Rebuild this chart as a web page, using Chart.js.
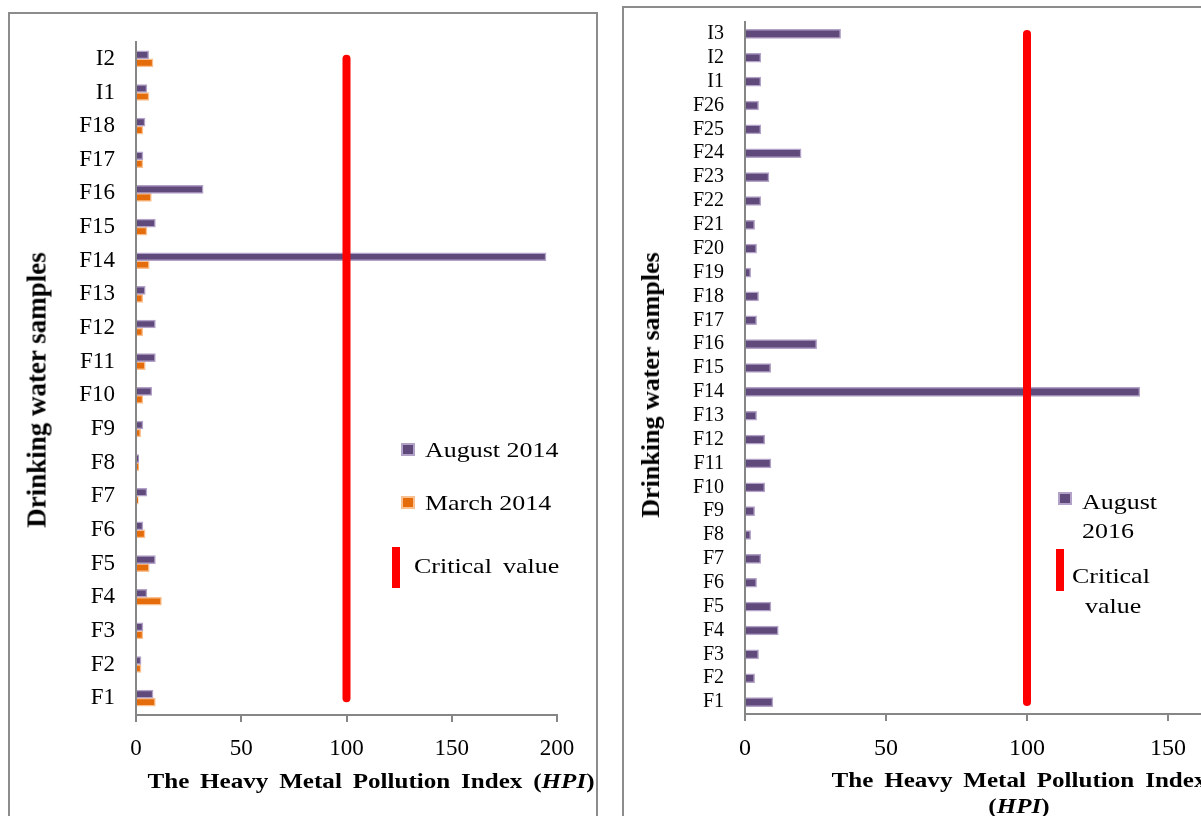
<!DOCTYPE html>
<html>
<head>
<meta charset="utf-8">
<script src="https://cdn.jsdelivr.net/npm/chart.js@4/dist/chart.umd.min.js"></script>
<style>
  body { margin: 0; width: 1201px; height: 816px; overflow: hidden; background: #fff; position: relative; font-family: "Liberation Serif", serif; }
  .box { position: absolute; border: 2px solid #8c8c8c; box-sizing: border-box; }
  canvas { position: absolute; }
  .txt { position: absolute; white-space: nowrap; color: #000; }
  .xt { font-weight: bold; font-size: 22px; word-spacing: 4px; transform: translateX(-50%) scaleX(1.14); }
  .yt { font-weight: bold; font-size: 27px; transform: translate(-50%, -50%) rotate(-90deg); }
  .lg { font-size: 22px; transform-origin: left center; transform: scaleX(1.18); }
  .sq { position: absolute; width: 14px; height: 13px; box-sizing: border-box; }
  .red { position: absolute; width: 8px; background: #ff0000; }
</style>
</head>
<body>
<div class="box" style="left:8px; top:12px; width:590px; height:830px;"></div>
<div class="box" style="left:622px; top:6px; width:700px; height:830px;"></div>

<canvas id="left" width="586" height="800" style="left:10px; top:14px;"></canvas>
<canvas id="right" width="720" height="808" style="left:624px; top:8px;"></canvas>

<div class="txt yt" style="left:37px; top:390px;">Drinking water samples</div>
<div class="txt xt" style="left:371px; top:768px;">The Heavy Metal Pollution Index (<i>HPI</i>)</div>

<div class="sq" style="left:401px; top:443px; background:#604a7b; border:2px solid #b3a2c7;"></div>
<div class="txt lg" style="left:425px; top:437px;">August 2014</div>
<div class="sq" style="left:401px; top:496px; background:#e46c0a; border:2px solid #fac090;"></div>
<div class="txt lg" style="left:425px; top:490px;">March 2014</div>
<div class="red" style="left:392px; top:547px; height:41px;"></div>
<div class="txt lg" style="left:414px; top:553px; word-spacing:4px;">Critical value</div>

<div class="txt yt" style="left:651px; top:385px; font-size:26px;">Drinking water samples</div>
<div class="txt xt" style="left:1019px; top:767px; text-align:center; line-height:26px;">The Heavy Metal Pollution Index<br>(<i>HPI</i>)</div>

<div class="sq" style="left:1058px; top:492px; background:#604a7b; border:2px solid #b3a2c7;"></div>
<div class="txt lg" style="left:1082px; top:487px; line-height:29px;">August<br>2016</div>
<div class="red" style="left:1056px; top:549px; height:42px;"></div>
<div class="txt lg" style="left:1072px; top:561px; line-height:30px;">Critical<br>&nbsp;&nbsp;value</div>

<script>
// 2014 samples (left panel)
const labels2014 = ['F1','F2','F3','F4','F5','F6','F7','F8','F9','F10','F11','F12','F13','F14','F15','F16','F17','F18','I1','I2'];
const aug2014 = [8.1, 2.4, 3.3, 5.2, 9.2, 3.3, 5.2, 1.3, 3.3, 7.5, 9.2, 9.2, 4.4, 194.8, 9.2, 31.9, 3.3, 4.3, 5.2, 6.0];
const mar2014 = [9.2, 2.4, 3.3, 12.1, 6.3, 4.3, 1.1, 1.3, 2.2, 3.3, 4.4, 3.2, 3.2, 6.3, 5.2, 7.3, 3.3, 3.3, 6.2, 8.1];

// 2016 samples (right panel)
const labels2016 = ['F1','F2','F3','F4','F5','F6','F7','F8','F9','F10','F11','F12','F13','F14','F15','F16','F17','F18','F19','F20','F21','F22','F23','F24','F25','F26','I1','I2','I3'];
const aug2016 = [9.9, 3.4, 4.8, 11.8, 9.2, 4.1, 5.6, 2.0, 3.4, 7.0, 9.2, 7.0, 4.1, 140, 9.1, 25.4, 4.1, 4.8, 2.0, 4.1, 3.4, 5.6, 8.5, 19.9, 5.6, 4.8, 5.6, 5.6, 33.9];

const criticalValue = 100;
const xTicks = [0, 50, 100, 150, 200];

const axisGray = '#868686';

function makeChart(id, labels, bars, opts) {
  const datasets = bars.map(b => ({
    label: b.label,
    data: b.data,
    backgroundColor: b.fill,
    borderColor: b.border,
    borderWidth: 1.5,
    barThickness: opts.barThickness
  }));
  // critical value line, from bottom category to top category
  datasets.push({
    type: 'line',
    label: 'Critical value',
    indexAxis: 'y',
    data: [{x: criticalValue, y: labels[0]}, {x: criticalValue, y: labels[labels.length - 1]}],
    borderColor: '#ff0000',
    borderWidth: 8,
    borderCapStyle: 'round',
    pointRadius: 0,
    fill: false,
    order: -1
  });

  return new Chart(document.getElementById(id), {
    type: 'bar',
    data: { labels: labels, datasets: datasets },
    options: {
      indexAxis: 'y',
      responsive: false,
      animation: false,
      layout: { padding: opts.padding },
      plugins: { legend: { display: false }, tooltip: { enabled: false } },
      scales: {
        y: {
          reverse: true,
          afterFit: s => { s.width = opts.yWidth; },
          // invisible tick marks push the labels away from the axis
          grid: { drawOnChartArea: false, drawTicks: true, tickLength: 19, color: 'transparent' },
          border: { color: axisGray, width: 2 },
          ticks: {
            autoSkip: false,
            padding: 2,
            color: '#000',
            font: { family: 'Liberation Serif', size: opts.yFont }
          }
        },
        x: {
          min: 0,
          max: 200,
          afterFit: s => { s.height = opts.xHeight; },
          afterBuildTicks: s => { s.ticks = xTicks.map(v => ({ value: v })); },
          grid: { drawOnChartArea: false, drawTicks: true, tickLength: 7, color: axisGray, lineWidth: 2 },
          border: { color: axisGray, width: 2 },
          ticks: {
            padding: 13,
            color: '#000',
            font: { family: 'Liberation Serif', size: opts.xFont }
          }
        }
      }
    }
  });
}

makeChart('left', labels2014, [
  { label: 'August 2014', data: aug2014, fill: '#604a7b', border: '#b3a2c7' },
  { label: 'March 2014', data: mar2014, fill: '#e46c0a', border: '#fac090' }
], { barThickness: 8, padding: { top: 28, right: 39, left: 0, bottom: 0 }, yWidth: 126, xHeight: 99, yFont: 23, xFont: 23 });

makeChart('right', labels2016, [
  { label: 'August 2016', data: aug2016, fill: '#604a7b', border: '#b3a2c7' }
], { barThickness: 9, padding: { top: 14, right: 35, left: 0, bottom: 0 }, yWidth: 121, xHeight: 102, yFont: 20, xFont: 24 });
</script>
</body>
</html>
